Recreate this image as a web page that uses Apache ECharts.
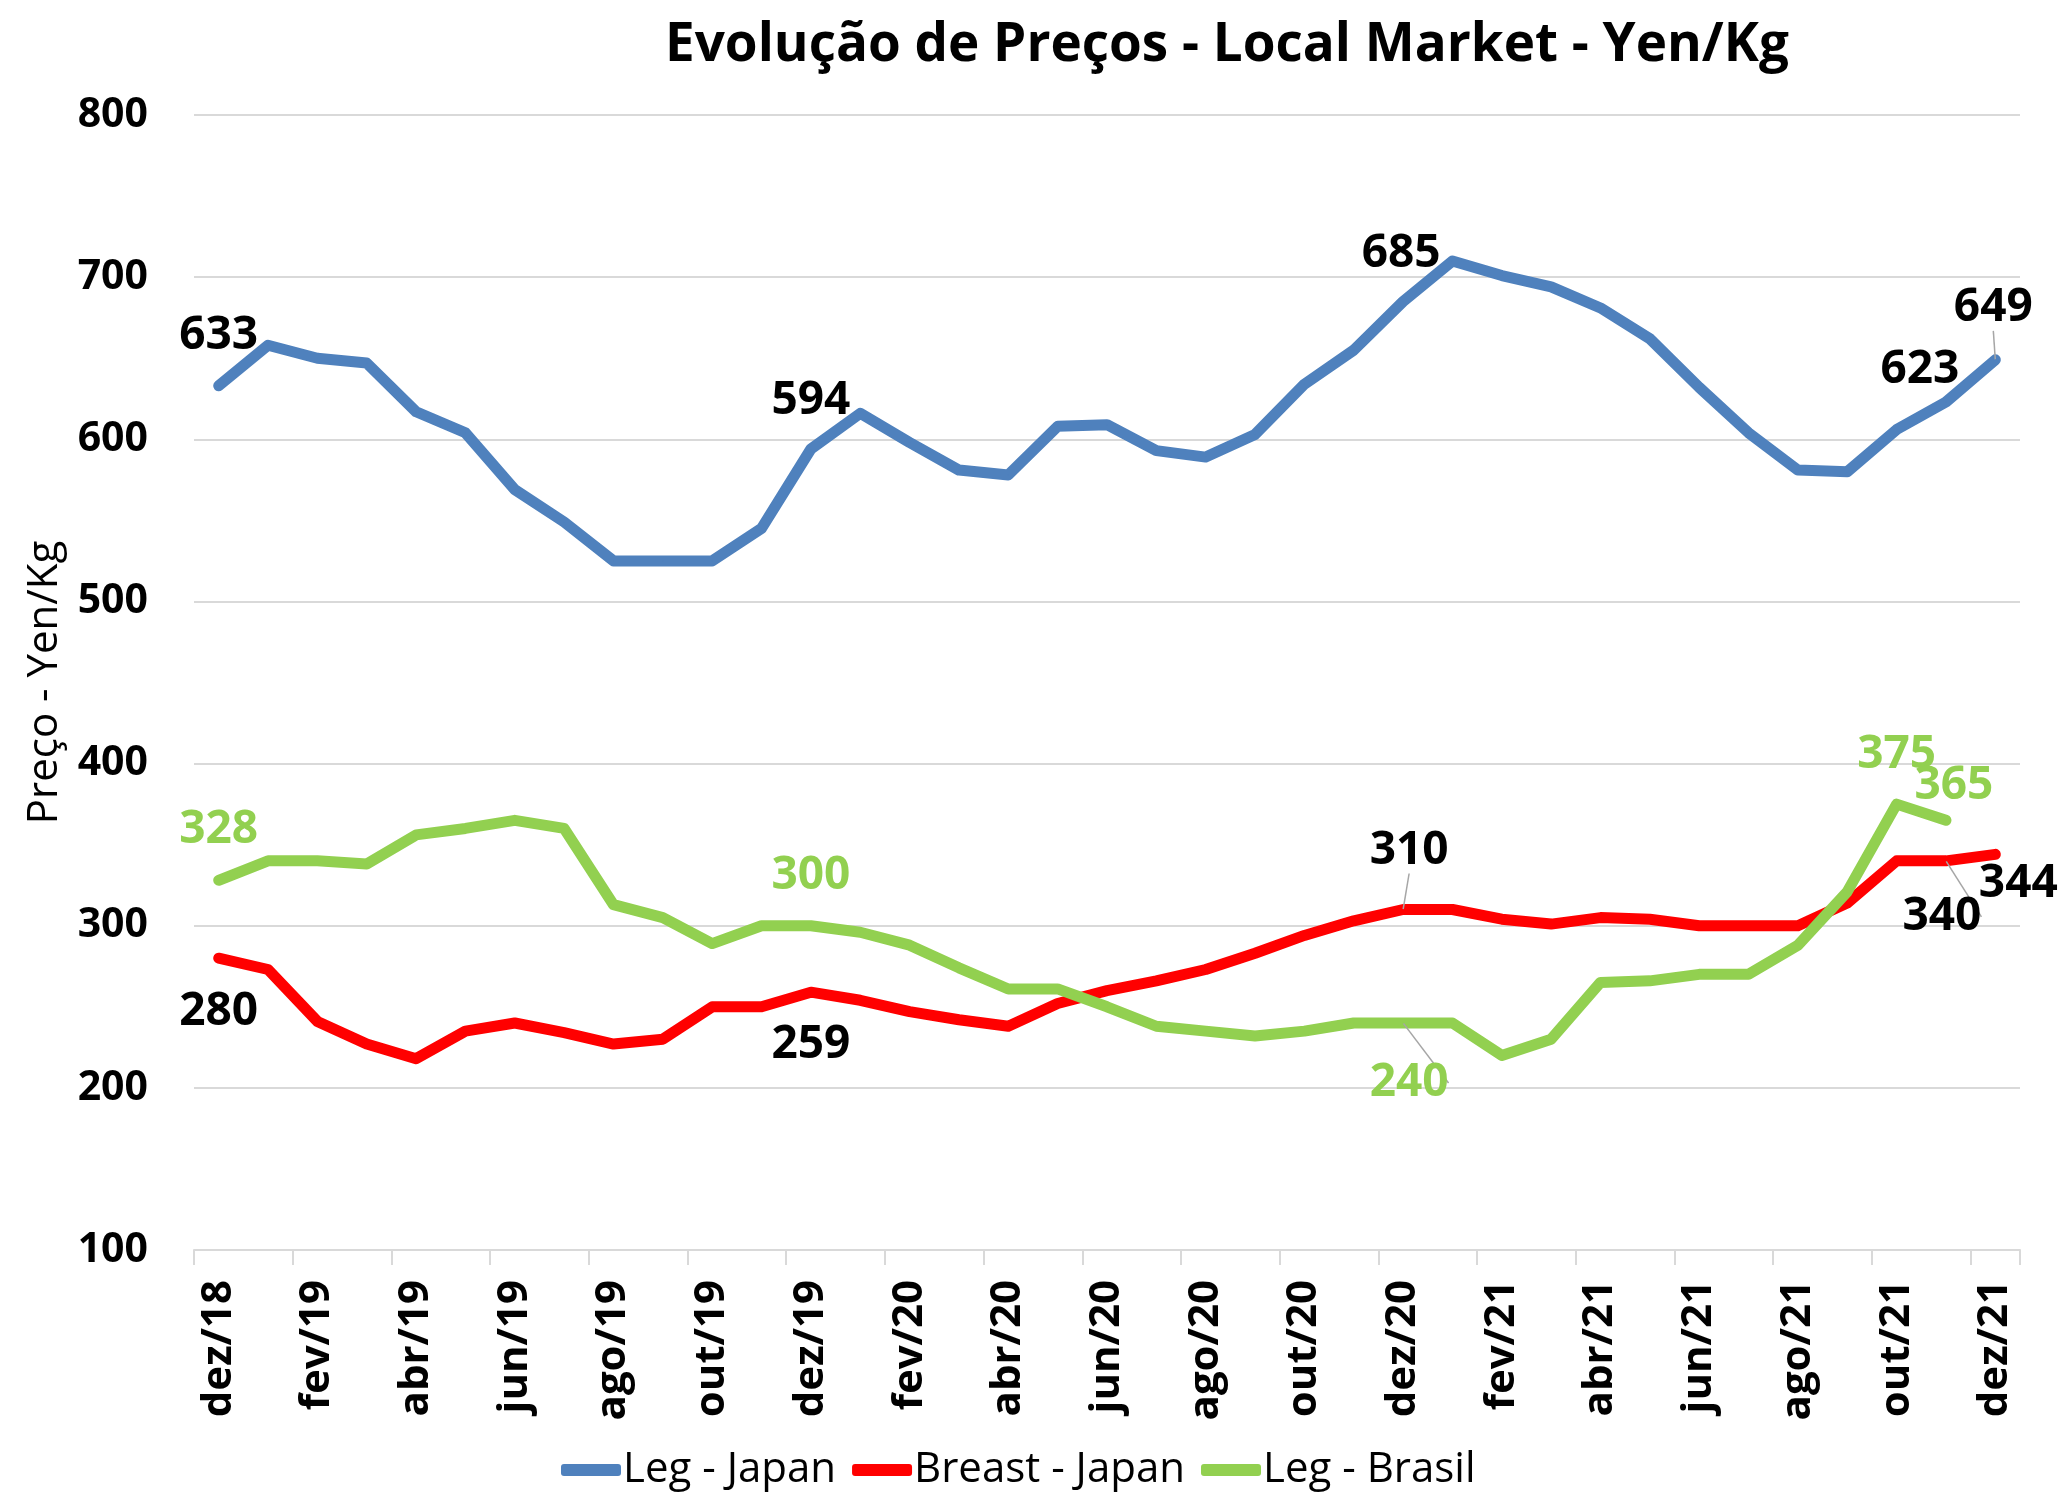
<!DOCTYPE html>
<html>
<head>
<meta charset="utf-8">
<script src="https://cdn.jsdelivr.net/npm/echarts@6/dist/echarts.min.js"></script>
<style>
  html, body { margin: 0; padding: 0; background: #fff; }
  #chart { width: 2064px; height: 1494px; }
</style>
</head>
<body>
<div id="chart"></div>
<script>
// meses dez/18 .. dez/21
const months = [
  "dez/18",
  "jan/19", "fev/19", "mar/19", "abr/19", "mai/19", "jun/19", "jul/19", "ago/19", "set/19", "out/19", "nov/19", "dez/19",
  "jan/20", "fev/20", "mar/20", "abr/20", "mai/20", "jun/20", "jul/20", "ago/20", "set/20", "out/20", "nov/20", "dez/20",
  "jan/21", "fev/21", "mar/21", "abr/21", "mai/21", "jun/21", "jul/21", "ago/21", "set/21", "out/21", "nov/21", "dez/21"
]

const legJapan = [633, 658, 650, 647, 617, 604, 569, 549, 525, 525, 525, 545, 594,
  616, 598, 581, 578, 608, 609, 593, 589, 603, 634, 655, 685,
  710, 701, 694, 681, 662, 632, 604, 581, 580, 606, 623, 649]

const breastJapan = [280, 273, 241, 227, 218, 235, 240, 234, 227, 230, 250, 250, 259,
  254, 247, 242, 238, 252, 260, 266, 273, 283, 294, 303, 310,
  310, 304, 301, 305, 304, 300, 300, 300, 314, 340, 340, 344]

const legBrasil = [328, 340, 340, 338, 356, 360, 365, 360, 313, 305, 289, 300, 300,
  296, 288, 274, 261, 261, 250, 238, 235, 232, 235, 240, 240,
  240, 220, 230, 265, 266, 270, 270, 288, 321, 375, 365, null]

const yTicks = { min: 100, max: 800, step: 100 }

// onde ficam os rótulos (índice -> deslocamento em px a partir do ponto)
const labelSpots = {
  legJapan: { 0: [0, -50], 12: [0, -48], 24: [-2, -48], 35: [-26, -32], 36: [-2, -52] },
  breastJapan: { 0: [0, 54], 12: [0, 53], 24: [6, -59], 35: [-4, 56], 36: [23, 30] },
  legBrasil: { 0: [0, -50], 12: [0, -50], 24: [6, 60], 34: [0, -49], 35: [8, -34] }
}
const leaderLines = { legJapan: [36], breastJapan: [24, 35], legBrasil: [24] }

const font = "'Open Sans', 'Noto Sans', sans-serif"

function buildData(values, key) {
  return values.map((v, i) => {
    let spot = labelSpots[key][i]
    if (!spot) return v
    let item = { value: v, label: { show: true, offset: spot } }
    if (leaderLines[key].indexOf(i) >= 0) {
      item.labelLine = { show: true, lineStyle: { color: "#A6A6A6", width: 1.5 } }
    }
    return item
  })
}

function lineSeries(name, values, key, color, labelColor) {
  return {
    name: name,
    type: "line",
    data: buildData(values, key),
    symbol: "circle",
    symbolSize: 1,
    showSymbol: true,
    showAllSymbol: true,
    connectNulls: false,
    itemStyle: { color: color },
    lineStyle: { color: color, width: 11, cap: "round", join: "round" },
    label: {
      show: false,
      position: "inside",
      color: labelColor,
      fontFamily: font,
      fontWeight: "bold",
      fontSize: 46
    },
    labelLine: { show: false },
    emphasis: { disabled: true }
  }
}

let myChart = echarts.init(document.getElementById("chart"))
myChart.setOption({
  animation: false,
  backgroundColor: "#fff",
  title: {
    text: "Evolução de Preços - Local Market - Yen/Kg",
    left: 660,
    top: 14,
    textStyle: { fontFamily: font, fontWeight: "bold", fontSize: 53, color: "#000" }
  },
  grid: { left: 194, right: 44, top: 115, bottom: 244 },
  legend: {
    bottom: -2,
    left: 556,
    icon: "roundRect",
    itemWidth: 60,
    itemHeight: 12,
    itemGap: 16,
    textStyle: { fontFamily: font, fontSize: 42, color: "#000", padding: [0, 0, 0, -3] },
    data: ["Leg - Japan", "Breast - Japan", "Leg - Brasil"]
  },
  xAxis: {
    type: "category",
    data: months,
    boundaryGap: true,
    axisLine: { lineStyle: { color: "#D9D9D9", width: 2 } },
    axisTick: { show: true, interval: 1, length: 15, lineStyle: { color: "#D9D9D9", width: 2 } },
    axisLabel: {
      interval: 1,
      rotate: 90,
      margin: 30,
      color: "#000",
      fontFamily: font,
      fontWeight: "bold",
      fontSize: 42
    }
  },
  yAxis: {
    type: "value",
    min: yTicks.min,
    max: yTicks.max,
    interval: yTicks.step,
    name: "Preço - Yen/Kg",
    nameLocation: "middle",
    nameGap: 128,
    nameTextStyle: { fontFamily: font, fontSize: 42, color: "#000" },
    axisLine: { show: false },
    axisTick: { show: false },
    splitLine: { lineStyle: { color: "#D9D9D9", width: 2 } },
    axisLabel: {
      margin: 46,
      color: "#000",
      fontFamily: font,
      fontWeight: "bold",
      fontSize: 41
    }
  },
  series: [
    lineSeries("Leg - Japan", legJapan, "legJapan", "#4F81BD", "#000"),
    lineSeries("Breast - Japan", breastJapan, "breastJapan", "#FF0000", "#000"),
    lineSeries("Leg - Brasil", legBrasil, "legBrasil", "#92D050", "#92D050")
  ]
})
</script>
</body>
</html>
